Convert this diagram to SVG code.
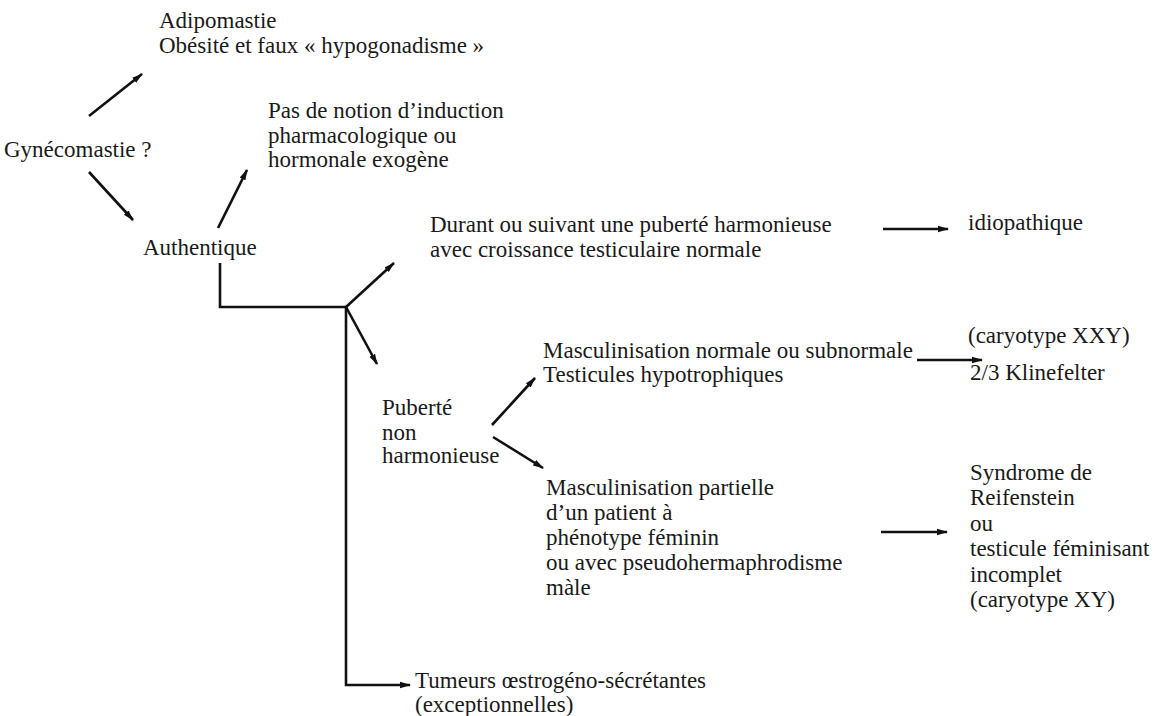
<svg xmlns="http://www.w3.org/2000/svg" width="1155" height="716" viewBox="0 0 1155 716">
<style>
text{font-size:23px;fill:#1a1a1a}
.c{stroke:#111;stroke-width:2.6;fill:none}
</style>
<defs>
<marker id="ah" markerUnits="userSpaceOnUse" markerWidth="12" markerHeight="8" refX="10" refY="4" orient="auto">
<path d="M0,0.8 L11,4 L0,7.2 Z" fill="#111"/>
</marker>
</defs>
<rect width="1155" height="716" fill="#fff"/>
<g id="connectors">
<line class="c" x1="89" y1="116" x2="142" y2="74" marker-end="url(#ah)"/>
<line class="c" x1="89" y1="172" x2="133" y2="220" marker-end="url(#ah)"/>
<line class="c" x1="218" y1="228" x2="247" y2="170" marker-end="url(#ah)"/>
<polyline class="c" points="220,263 220,307 346,307"/>
<line class="c" x1="346" y1="307" x2="394" y2="263" marker-end="url(#ah)"/>
<line class="c" x1="346" y1="307" x2="377" y2="364" marker-end="url(#ah)"/>
<polyline class="c" points="346,307 346,685 410,685" marker-end="url(#ah)"/>
<line class="c" x1="883" y1="229" x2="948" y2="229" marker-end="url(#ah)"/>
<line class="c" x1="492" y1="425" x2="535" y2="378" marker-end="url(#ah)"/>
<line class="c" x1="493" y1="437" x2="543" y2="468" marker-end="url(#ah)"/>
<line class="c" x1="917" y1="360" x2="982" y2="360" marker-end="url(#ah)"/>
<line class="c" x1="881" y1="532" x2="947" y2="532" marker-end="url(#ah)"/>
</g>
<g font-family="Liberation Serif, Times New Roman, serif">
<g id="adipomastie"><text x="159" y="28">Adipomastie</text><text x="159" y="53">Obésité et faux « hypogonadisme »</text></g>
<g id="gynecomastie"><text x="4" y="157">Gynécomastie ?</text></g>
<g id="pas-induction"><text x="268" y="118">Pas de notion d’induction</text><text x="268" y="143">pharmacologique ou</text><text x="268" y="167">hormonale exogène</text></g>
<g id="authentique"><text x="143" y="255">Authentique</text></g>
<g id="durant"><text x="430" y="232">Durant ou suivant une puberté harmonieuse</text><text x="430" y="257">avec croissance testiculaire normale</text></g>
<g id="idiopathique"><text x="968" y="230">idiopathique</text></g>
<g id="puberte"><text x="382" y="415">Puberté</text><text x="382" y="440">non</text><text x="382" y="463">harmonieuse</text></g>
<g id="masc-normale"><text x="543" y="358">Masculinisation normale ou subnormale</text><text x="543" y="382">Testicules hypotrophiques</text></g>
<g id="klinefelter"><text x="968" y="343">(caryotype XXY)</text><text x="970" y="380">2/3 Klinefelter</text></g>
<g id="masc-partielle"><text x="546" y="495">Masculinisation partielle</text><text x="546" y="520">d’un patient à</text><text x="546" y="545">phénotype féminin</text><text x="546" y="570">ou avec pseudohermaphrodisme</text><text x="546" y="595">màle</text></g>
<g id="reifenstein"><text x="970" y="480">Syndrome de</text><text x="970" y="505">Reifenstein</text><text x="970" y="531">ou</text><text x="970" y="556">testicule féminisant</text><text x="970" y="582">incomplet</text><text x="970" y="607">(caryotype XY)</text></g>
<g id="tumeurs"><text x="415" y="688">Tumeurs œstrogéno-sécrétantes</text><text x="415" y="712">(exceptionnelles)</text></g>
</g>
</svg>
